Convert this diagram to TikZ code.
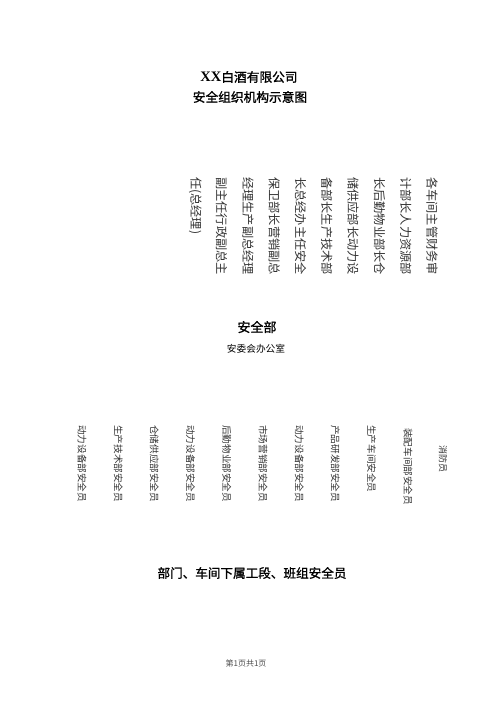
\documentclass[tikz,border=0pt]{standalone}
\usepackage{fontspec}
\setmainfont{Liberation Serif}
\newfontfamily\cjk{Noto Sans CJK SC}
\newfontfamily\cjkm[FakeBold=1.2]{Noto Sans CJK SC}
\begin{document}
\begin{tikzpicture}[x=1pt,y=-1pt,
  title/.style={inner sep=0pt, font=\cjkm\fontsize{12.7}{14}\selectfont},
  duty/.style={inner sep=0pt, rotate=-90, anchor=west, text=black!80, font=\cjk\fontsize{12.2}{14}\selectfont},
  officer/.style={inner sep=0pt, rotate=-90, anchor=west, text=black!80, font=\cjk\fontsize{9.6}{11}\selectfont}]
\useasboundingbox (0,0) rectangle (500,707);
\node[title] (company) at (249,77) {{\rmfamily\bfseries\fontsize{14.5}{16}\selectfont XX}白酒有限公司};
\node[title] (chart) at (250,97) {安全组织机构示意图};
% committee members, read right to left
\foreach \t [count=\i] in {各车间主管财务审,计部长人力资源部,长后勤物业部长仓,储供应部长动力设,备部长生产技术部,长总经办主任安全,保卫部长营销副总,经理生产副总经理,副主任行政副总主,任(总经理)}
  \node[duty] (member\i) at (432-26.3*\i+26.3,177) {\t};
\node[title, font=\cjkm\fontsize{13}{15}\selectfont] (office) at (257,327) {安全部};
\node[inner sep=0pt, font=\cjk\fontsize{9.7}{11}\selectfont] (committee) at (256,349) {安委会办公室};
% department safety officers
\foreach \t [count=\i] in {动力设备部安全员,生产技术部安全员,仓储供应部安全员,动力设备部安全员,后勤物业部安全员,市场营销部安全员,动力设备部安全员,产品研发部安全员,生产车间安全员}
  \node[officer] (dept\i) at (82+36.2*\i-36.2,425) {\t};
\node[officer] (dept10) at (408,428) {装配车间部安全员};
\node[officer, font=\cjk\fontsize{9}{11}\selectfont] (fire) at (443,445) {消防员};
\node[title, font=\cjkm\fontsize{12.6}{14}\selectfont] (teams) at (252,573) {部门、车间下属工段、班组安全员};
\node[inner sep=0pt, text=black!70, font=\cjk\fontsize{8}{10}\selectfont] (page) at (246,663) {第1页共1页};
\end{tikzpicture}
\end{document}
